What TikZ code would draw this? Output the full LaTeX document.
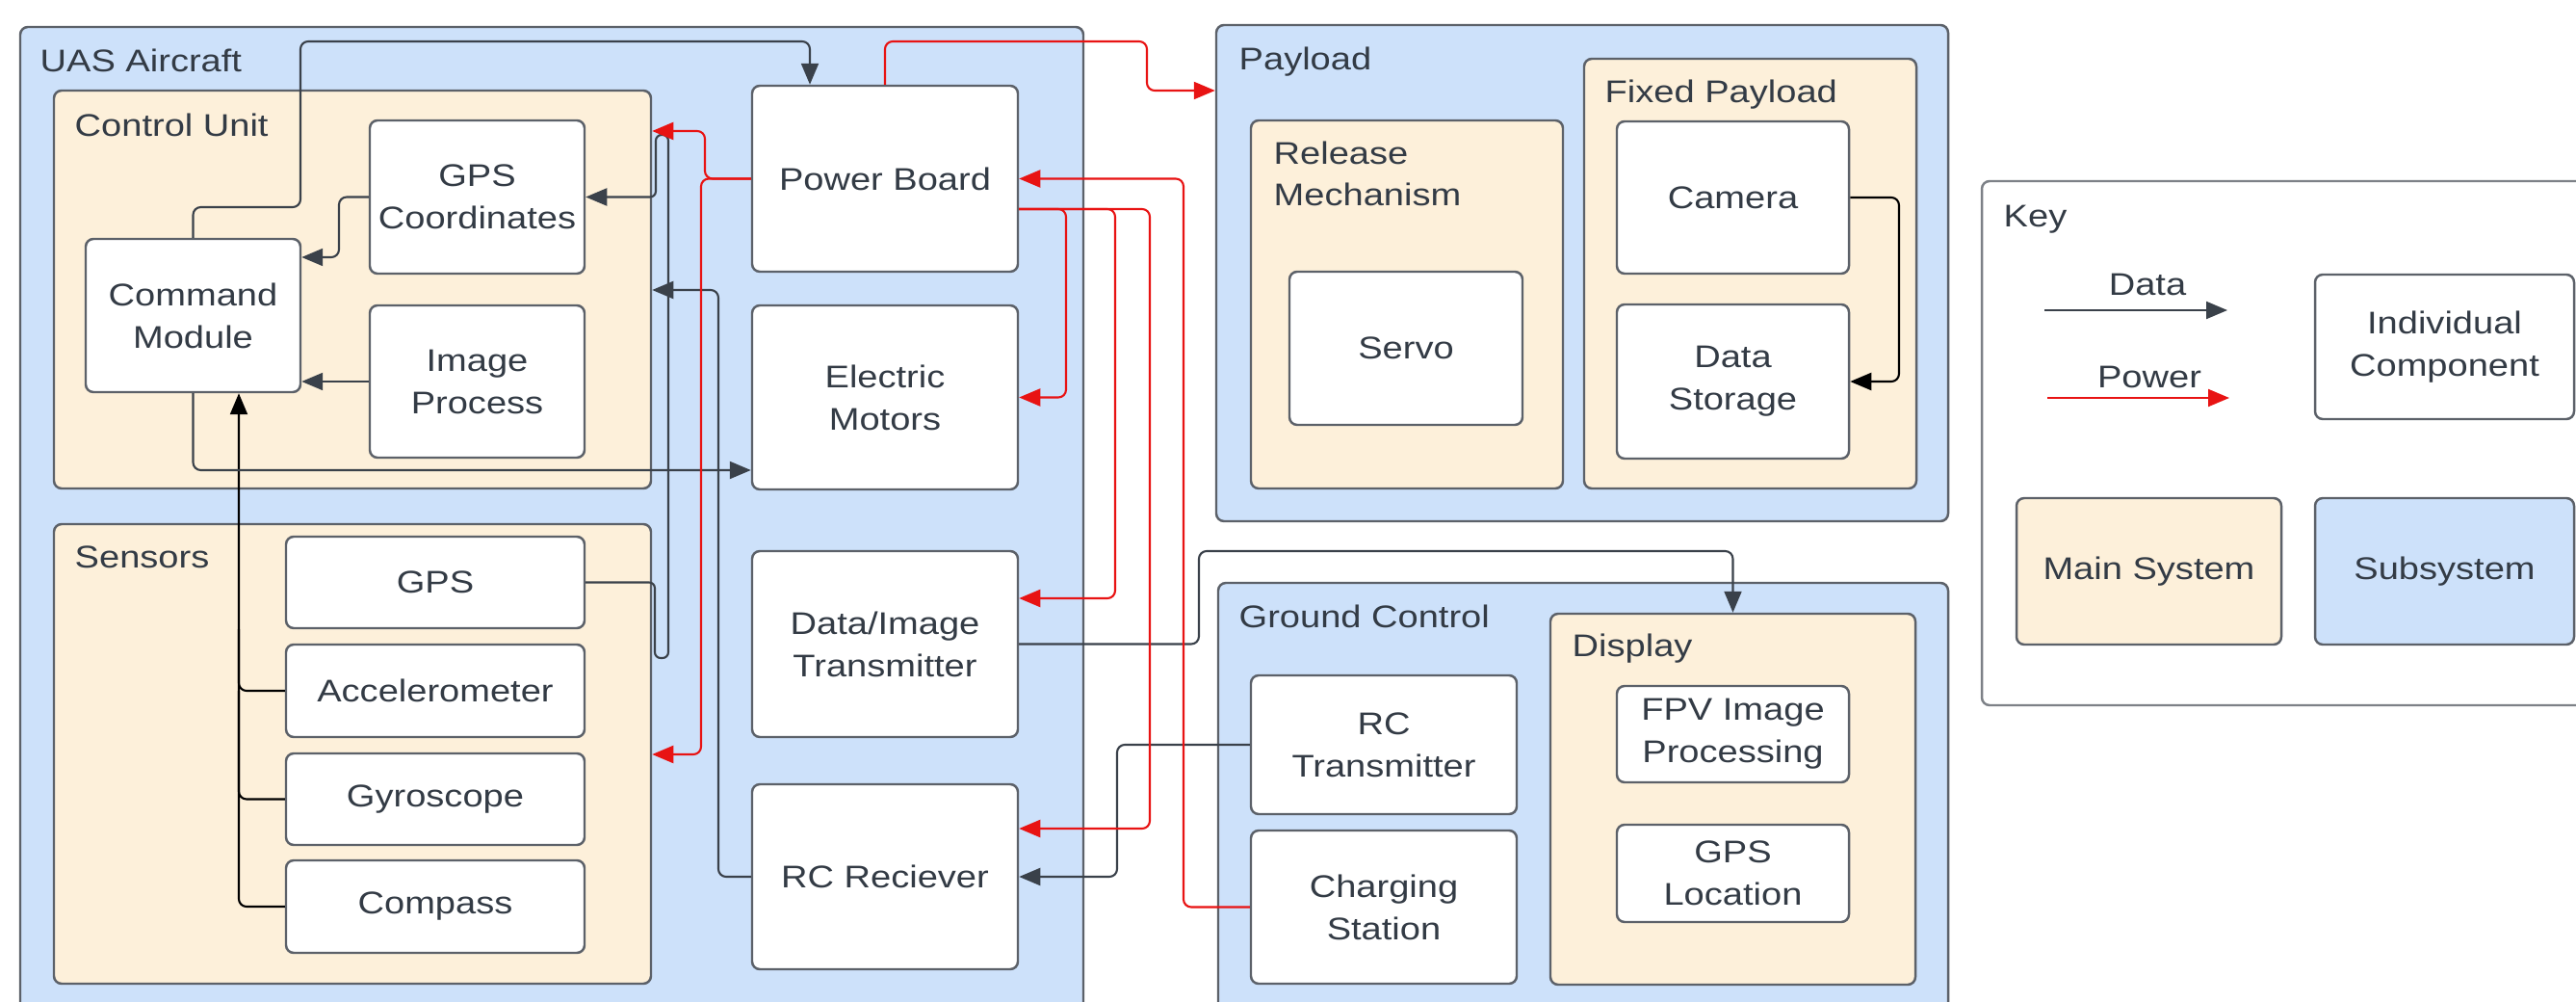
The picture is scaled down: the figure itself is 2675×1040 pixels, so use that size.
\documentclass[tikz,border=0pt]{standalone}
\usepackage{fontspec}
\setmainfont{Liberation Sans}[FakeStretch=1.17]
\usetikzlibrary{arrows.meta}

\definecolor{subblue}{HTML}{CDE1FA}
\definecolor{maintan}{HTML}{FDF0DA}
\definecolor{edgegray}{HTML}{5C6169}
\definecolor{datacol}{HTML}{3A414A}
\definecolor{powercol}{HTML}{E81313}
\definecolor{txtcol}{HTML}{333B45}

\newcommand\lbl{\fontsize{9.25}{12.5}\selectfont}

\tikzset{
  blockbase/.style={draw=edgegray, line width=0.7pt, rounded corners=0.08cm,
    inner sep=0pt, align=center, text=txtcol, font=\lbl},
  comp/.style={blockbase, fill=white},
  mainsys/.style={blockbase, fill=maintan},
  subsys/.style={blockbase, fill=subblue},
  keyframe/.style={blockbase, fill=white, draw=edgegray!80},
  grouptitle/.style={anchor=base west, inner sep=0pt, text=txtcol, font=\lbl},
  keytext/.style={anchor=base, inner sep=0pt, text=txtcol, font=\lbl},
  flowbase/.style={line width=0.6pt, rounded corners=0.08cm},
  dataflow/.style={flowbase, draw=datacol, -{Triangle[length=2.2mm,width=1.8mm]}},
  powerflow/.style={flowbase, draw=powercol, -{Triangle[length=2.2mm,width=1.8mm]}},
  blackflow/.style={flowbase, draw=black, -{Triangle[length=2.2mm,width=1.8mm]}},
  blackline/.style={flowbase, draw=black},
}

% \blockat{name}{style}{x1}{y1}{x2}{y2}{text}
\newcommand\blockat[7]{%
  \node[#2, minimum width={(#5-#3)*0.01cm}, minimum height={(#6-#4)*0.01cm}]
    (#1) at ({(#3+#5)/2},{(#4+#6)/2}) {#7};}

\begin{document}
\begin{tikzpicture}[x=0.01cm, y=-0.01cm]
\useasboundingbox (0,0) rectangle (2675,1040);
\fill[white] (0,0) rectangle (2675,1040);
\clip (0,0) rectangle (2675,1040);

% ---- UAS aircraft ----
\blockat{uas}{subsys}{21}{28}{1125}{1100}{}
\node[grouptitle] (uasT) at (41,75) {UAS Aircraft};
\blockat{cu}{mainsys}{56}{94}{676}{507}{}
\node[grouptitle] (cuT) at (77,142) {Control Unit};
\blockat{sens}{mainsys}{56}{544}{676}{1021}{}
\node[grouptitle] (sensT) at (77,590) {Sensors};

\blockat{gpsc}{comp}{384}{125}{607}{284}{GPS\\Coordinates}
\blockat{imgp}{comp}{384}{317}{607}{475}{Image\\Process}
\blockat{cmd}{comp}{89}{248}{312}{407}{Command\\Module}
\blockat{gps}{comp}{297}{557}{607}{652}{GPS}
\blockat{acc}{comp}{297}{669}{607}{765}{Accelerometer}
\blockat{gyro}{comp}{297}{782}{607}{877}{Gyroscope}
\blockat{comp}{comp}{297}{893}{607}{989}{Compass}

\blockat{pb}{comp}{781}{89}{1057}{282}{Power Board}
\blockat{em}{comp}{781}{317}{1057}{508}{Electric\\Motors}
\blockat{dit}{comp}{781}{572}{1057}{765}{Data/Image\\Transmitter}
\blockat{rcr}{comp}{781}{814}{1057}{1006}{RC Reciever}

% ---- Payload ----
\blockat{pay}{subsys}{1263}{26}{2023}{541}{}
\node[grouptitle] (payT) at (1286,73) {Payload};
\blockat{rel}{mainsys}{1299}{125}{1623}{507}{}
\node[grouptitle] (relT) at (1322,171) {Release};
\node[grouptitle] (relT2) at (1322,214) {Mechanism};
\blockat{servo}{comp}{1339}{282}{1581}{441}{Servo}
\blockat{fix}{mainsys}{1645}{61}{1990}{507}{}
\node[grouptitle] (fixT) at (1666,107) {Fixed Payload};
\blockat{cam}{comp}{1679}{126}{1920}{284}{Camera}
\blockat{dst}{comp}{1679}{316}{1920}{476}{Data\\Storage}

% ---- Ground control ----
\blockat{gc}{subsys}{1265}{605}{2023}{1100}{}
\node[grouptitle] (gcT) at (1286,652) {Ground Control};
\blockat{disp}{mainsys}{1610}{637}{1989}{1022}{}
\node[grouptitle] (dispT) at (1632,682) {Display};
\blockat{rct}{comp}{1299}{701}{1575}{845}{RC\\Transmitter}
\blockat{chg}{comp}{1299}{862}{1575}{1021}{Charging\\Station}
\blockat{fpv}{comp}{1679}{712}{1920}{812}{FPV Image\\Processing}
\blockat{gpsl}{comp}{1679}{856}{1920}{957}{GPS\\Location}

% ---- Key ----
\blockat{key}{keyframe}{2058}{188}{2720}{732}{}
\node[grouptitle] (keyT) at (2080,236) {Key};
\blockat{kcomp}{comp}{2404}{285}{2673}{435}{Individual\\Component}
\blockat{kmain}{mainsys}{2094}{517}{2369}{669}{Main System}
\blockat{ksub}{subsys}{2404}{517}{2673}{669}{Subsystem}
\node[keytext] (kdataT) at (2230,307) {Data};
\node[keytext] (kpowT) at (2232,403) {Power};
\coordinate (kd0) at (2123,322);
\coordinate (kd1) at (2313,322);
\coordinate (kp0) at (2126,413);
\coordinate (kp1) at (2315,413);
\draw[dataflow] (kd0) -- (kd1);
\draw[powerflow] (kp0) -- (kp1);

% ---- bend points ----
\coordinate (b1) at (352,267);
\coordinate (g1) at (680,683);
\coordinate (g2) at (694,140);
\coordinate (g3) at (681,140);
\coordinate (bus) at (248,0);
\coordinate (c1) at (312,215);
\coordinate (c2) at (841,43);
\coordinate (c3) at (0,488);
\coordinate (p1) at (1191,43);
\coordinate (p2) at (0,94);
\coordinate (p3) at (732,136);
\coordinate (p4) at (728,783);
\coordinate (p5) at (1107,217);
\coordinate (p6) at (1158,621);
\coordinate (p7) at (1194,860);
\coordinate (p8) at (1229,0);
\coordinate (d1) at (1245,572);
\coordinate (d2) at (1160,0);
\coordinate (d3) at (746,301);
\coordinate (d4) at (1972,0);

% ---- data links ----
\draw[dataflow] (gpsc.west) -| (b1) -- (cmd.east |- b1);
\draw[dataflow] (imgp.west) -- (cmd.east |- imgp.west);
\draw[dataflow, rounded corners=0.06cm] (gps.east) -| (g1) -| (g2) -- (g3) |- (gpsc.east);
\draw[blackline] (acc.west) -| (bus |- gps.south);
\draw[blackline] (gyro.west) -| (bus |- acc.west);
\draw[blackflow] (comp.west) -| (bus |- cmd.south);
\draw[dataflow] (cmd.north) |- (c1) |- (c2) -- (pb.north -| c2);
\draw[dataflow] (cmd.south) |- (em.west |- c3);
\draw[dataflow] (dit.east) -| (d1) -| (disp.north);
\draw[dataflow] (rct.west) -| (d2 |- rcr.east) -- (rcr.east);
\draw[dataflow] (rcr.west) -| (d3) -- (cu.east |- d3);
\draw[blackflow] (cam.east) -| (d4 |- dst.east) -- (dst.east);

% ---- power links ----
\draw[powerflow] (pb.north) |- (p1) |- (pay.west |- p2);
\draw[powerflow] (pb.west) -| (p3) -- (cu.east |- p3);
\draw[powerflow] (pb.west) -| (p4) -- (sens.east |- p4);
\draw[powerflow] (pb.east |- p5) -| (em.east -| p5) -- (em.east);
\draw[powerflow] (pb.east |- p5) -| (p6) -- (dit.east |- p6);
\draw[powerflow] (pb.east |- p5) -| (p7) -- (rcr.east |- p7);
\draw[powerflow] (chg.west) -| (p8 |- pb.east) -- (pb.east);
\end{tikzpicture}
\end{document}
